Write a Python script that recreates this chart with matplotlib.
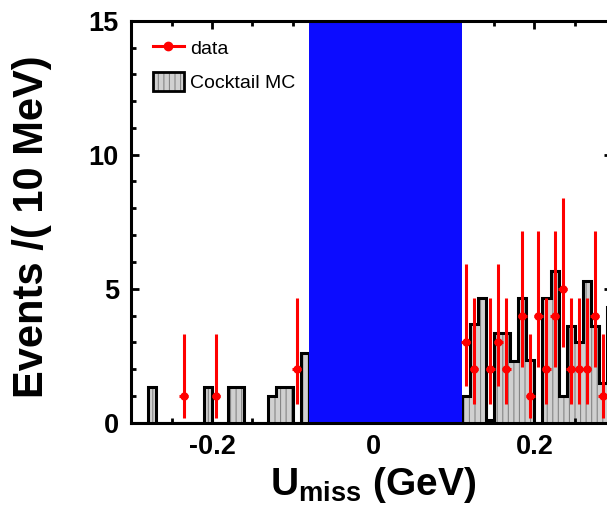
import numpy as np
import matplotlib.pyplot as plt
from matplotlib.patches import Patch
from matplotlib.lines import Line2D
from matplotlib.ticker import MultipleLocator

plt.rcParams['font.family'] = ['Liberation Sans', 'DejaVu Sans']
plt.rcParams['hatch.linewidth'] = 0.8
plt.rcParams['mathtext.fontset'] = 'custom'
plt.rcParams['mathtext.rm'] = 'Liberation Sans:bold'
plt.rcParams['mathtext.bf'] = 'Liberation Sans:bold'

# bin edges: 10 MeV bins from -0.30 to 0.30 GeV
edges = np.round(np.arange(-0.30, 0.3001, 0.01), 2)

# cocktail MC, one value per bin (bins under the blue band are empty)
mc_counts = [
    0, 0, 1.33, 0, 0, 0, 0, 0, 0, 1.33,        # -0.30 .. -0.21
    0, 0, 1.33, 1.33, 0, 0, 0, 1.0, 1.33, 1.33,  # -0.20 .. -0.11
    0, 2.6, 0, 0, 0, 0, 0, 0, 0, 0,              # -0.10 .. -0.01
    0, 0, 0, 0, 0, 0, 0, 0, 0, 0,                # 0.00 .. 0.09
    0, 1.0, 3.7, 4.65, 0.1, 3.33, 3.33, 2.3, 4.65, 2.33,  # 0.10 .. 0.19
    0, 4.65, 5.65, 1.0, 3.6, 3.0, 5.3, 3.6, 1.5, 4.3,     # 0.20 .. 0.29
]

# data points (bin centre, counts)
data_x = [-0.235, -0.195, -0.095,
          0.115, 0.125, 0.145, 0.155, 0.165, 0.185, 0.195, 0.205,
          0.215, 0.225, 0.235, 0.245, 0.255, 0.265, 0.275, 0.285]
data_n = [1, 1, 2,
          3, 2, 2, 3, 2, 4, 1, 4,
          2, 4, 5, 2, 2, 2, 4, 1]

# poisson interval limits, by count
lim_lo = {1: 0.17, 2: 0.71, 3: 1.37, 4: 2.09, 5: 2.84}
lim_hi = {1: 3.30, 2: 4.64, 3: 5.92, 4: 7.16, 5: 8.38}

band = (-0.08, 0.11)
xtick_vals = [-0.2, 0, 0.2]
xtick_labels = ['-0.2', '0', '0.2']
ytick_vals = [0, 5, 10, 15]

err_lo = [n - lim_lo[n] for n in data_n]
err_hi = [lim_hi[n] - n for n in data_n]

fig = plt.figure(figsize=(6.07, 5.14), dpi=100)
ax = fig.add_axes([131.4 / 607, 91.3 / 514, 481 / 607, 402 / 514])

fill_col = '#d0d0d0'
hatch_col = '#858585'
ax.stairs(mc_counts, edges, fill=True, facecolor=fill_col, edgecolor=hatch_col,
          hatch='|||', linewidth=0, zorder=1)
ax.stairs(mc_counts, edges, baseline=0, color='black', linewidth=2.2, zorder=2)

ax.axvspan(band[0], band[1], color='#0c0cff', lw=0, zorder=3)

ax.errorbar(data_x, data_n, yerr=[err_lo, err_hi], xerr=0.0055, fmt='o',
            color='red', ms=5, elinewidth=2.2, capsize=0, zorder=4)

ax.set_xlim(-0.3, -0.3 + 481 / 806)
ax.set_ylim(0, 15)
ax.set_xticks(xtick_vals)
ax.set_xticklabels(xtick_labels, fontweight='bold')
ax.set_yticks(ytick_vals)
ax.set_yticklabels([str(v) for v in ytick_vals], fontweight='bold')
ax.xaxis.set_minor_locator(MultipleLocator(0.05))
ax.yaxis.set_minor_locator(MultipleLocator(1))
ax.tick_params(which='both', direction='in', top=True, right=True, width=2)
ax.tick_params(which='major', length=6, labelsize=19.5)
ax.tick_params(axis='x', which='major', pad=8)
ax.tick_params(axis='y', which='major', pad=9)
ax.tick_params(which='minor', length=3.5)
for s in ax.spines.values():
    s.set_linewidth(2.2)
    s.set_zorder(5)

data_handle = Line2D([], [], color='red', marker='o', ms=6, lw=2.2)
mc_handle = (Patch(facecolor=fill_col, edgecolor=hatch_col, hatch='|||', lw=0),
             Patch(fill=False, edgecolor='black', lw=2))
ax.legend([data_handle, mc_handle], ['data', 'Cocktail MC'], loc='upper left',
          bbox_to_anchor=(0.044, 0.957), frameon=False, fontsize=14,
          handlelength=1.6, handleheight=1.15, handletextpad=0.35,
          labelspacing=0.7, borderpad=0, borderaxespad=0)

fig.text(32 / 607, (514 - 227) / 514, 'Events /( 10 MeV)', rotation=90,
         ha='center', va='center', fontsize=30, fontweight='bold')
fig.text(373 / 607, (514 - 495) / 514, 'U$_{\\mathrm{miss}}$ (GeV)',
         ha='center', va='baseline', fontsize=28, fontweight='bold')

fig.savefig('out.png', dpi=100)
